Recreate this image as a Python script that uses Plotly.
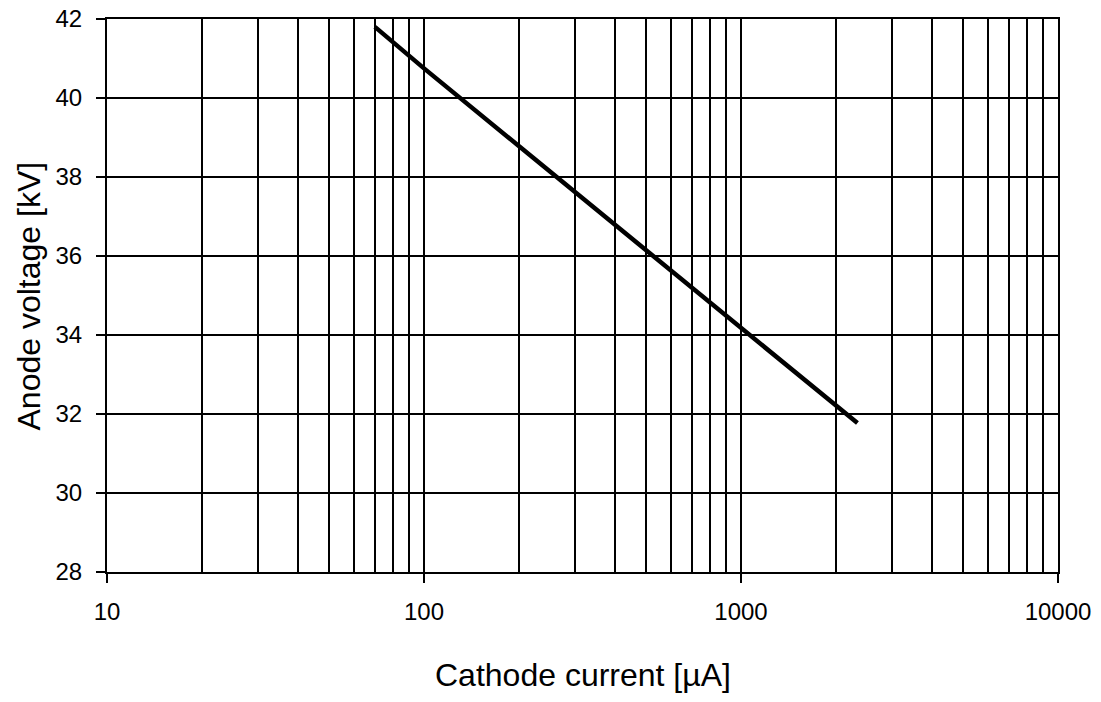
import plotly.graph_objects as go

# cathode current [uA] vs anode voltage [kV]
current_uA = [70, 100, 200, 500, 1000, 2330]
voltage_kV = [41.8, 40.75, 38.77, 36.15, 34.18, 31.77]

x_tick_vals = [10, 100, 1000, 10000]
x_tick_text = ["10", "100", "1000", "10000"]
y_tick_vals = [28, 30, 32, 34, 36, 38, 40, 42]

font = "Liberation Sans, Arial, sans-serif"

fig = go.Figure()
fig.add_trace(
    go.Scatter(
        x=current_uA,
        y=voltage_kV,
        mode="lines",
        line=dict(color="black", width=4.5),
        showlegend=False,
    )
)

axis_style = dict(
    ticks="outside",
    ticklen=9,
    tickwidth=2,
    tickcolor="black",
    showgrid=True,
    gridcolor="black",
    gridwidth=2,
    showline=True,
    linecolor="black",
    linewidth=2,
    mirror=True,
    zeroline=False,
    automargin=False,
    ticklabeloverflow="allow",
    tickfont=dict(family=font, size=24, color="black"),
)

fig.update_xaxes(
    type="log",
    range=[1, 4],
    tickvals=x_tick_vals,
    ticktext=x_tick_text,
    ticklabelstandoff=8,
    minor=dict(dtick="D1", showgrid=True, gridcolor="black", gridwidth=2, ticks=""),
    **axis_style,
)
fig.update_yaxes(
    range=[28, 42],
    tickvals=y_tick_vals,
    ticklabelstandoff=9,
    **axis_style,
)

# axis titles as annotations so they sit where the original has them
fig.add_annotation(
    text="Cathode current [µA]",
    xref="paper", yref="paper", x=0.5, y=0,
    yanchor="middle", yshift=-103,
    showarrow=False,
    font=dict(family=font, size=32, color="black"),
)
fig.add_annotation(
    text="Anode voltage [kV]",
    xref="paper", yref="paper", x=0, y=0.5,
    xanchor="center", xshift=-79, yshift=-1,
    textangle=-90,
    showarrow=False,
    font=dict(family=font, size=32, color="black"),
)

fig.update_layout(
    plot_bgcolor="white",
    paper_bgcolor="white",
    margin=dict(l=99, r=35, t=11, b=122),
)

fig.write_html("out.html")
